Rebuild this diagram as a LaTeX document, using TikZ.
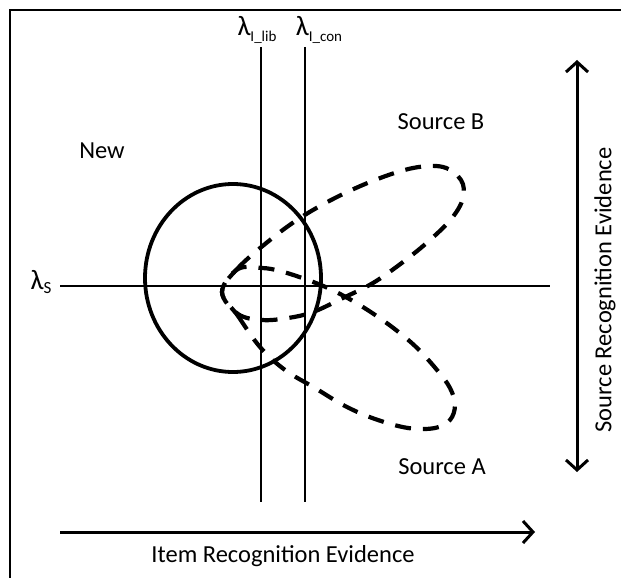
\documentclass[tikz,border=0pt]{standalone}
\usepackage{fontspec}
\setmainfont{Carlito}
\usetikzlibrary{arrows.meta}
\begin{document}
\begin{tikzpicture}[x=1pt,y=-1pt,
  lbl/.style={inner sep=0pt,font=\fontsize{24.5}{28}\selectfont},
  lam/.style={inner sep=0pt,font=\fontsize{28}{32}\selectfont},
  thinline/.style={line width=2pt},
  barb/.tip={Straight Barb[length=10pt,width=22pt,line width=3pt]},
  axisarrow/.style={line width=3pt,-barb},
  dashedshape/.style={line width=4.2pt,dash pattern=on 16pt off 12pt},
  circ/.style={line width=3.8pt}]
\useasboundingbox (0,0) rectangle (621,578);
% frame (only top and left edges visible)
\coordinate (f1) at (621,10);
\coordinate (f2) at (10,10);
\coordinate (f3) at (10,578);
\draw[line width=2.2pt] (f1) -- (f2) -- (f3);
% threshold lines
\coordinate (vl1) at (261,47);
\coordinate (vl2) at (261,502);
\coordinate (vc1) at (305,47);
\coordinate (vc2) at (305,502);
\coordinate (hs1) at (60,286);
\coordinate (hs2) at (550,286);
\draw[thinline] (vl1) -- (vl2);
\draw[thinline] (vc1) -- (vc2);
\draw[thinline] (hs1) -- (hs2);
% labels
\node[lam] (ls) at (41,282) {λ\raisebox{-0.3ex}{\fontsize{17}{19}\selectfont S}};
\node[lam] (llib) at (257,30) {λ\raisebox{-0.45ex}{\fontsize{15}{17}\selectfont I\_lib}};
\node[lam] (lcon) at (319,30) {λ\raisebox{-0.45ex}{\fontsize{15}{17}\selectfont I\_con}};
\node[lbl] (new) at (102,151) {New};
\node[lbl] (srcb) at (441,122) {Source B};
\node[lbl] (srca) at (442,467) {Source A};
% New distribution
\draw[circ] (233,278) ellipse [x radius=88, y radius=94];
% Source B
\draw[dashedshape] plot[smooth cycle, tension=0.6] coordinates {
  (222,292) (238,268) (270,240) (300,218) (335,198) (375,180) (413,168)
  (443,167) (461,180) (463,198) (452,218) (430,240) (403,262) (373,283)
  (343,298) (313,312) (288,318) (262,320) (238,314)};
% Source A
\draw[dashedshape] plot[smooth cycle, tension=0.6] coordinates {
  (222,292) (238,316) (260,347) (285,370) (315,388) (345,406) (375,419)
  (408,428) (435,428) (450,420) (455,405) (450,388) (437,370) (415,346)
  (388,324) (358,304) (330,289) (305,279) (280,271) (262,268) (238,269)};
% axes
\coordinate (ix1) at (60,532);
\coordinate (ix2) at (535,532);
\draw[axisarrow] (ix1) -- (ix2);
\node[lbl] (ilabel) at (283,556) {Item Recognition Evidence};
\coordinate (sy1) at (577,472);
\coordinate (sy2) at (577,60);
\draw[axisarrow,barb-barb] (sy1) -- (sy2);
\node[lbl,rotate=90] (slabel) at (605,290) {Source Recognition Evidence};
\end{tikzpicture}
\end{document}
